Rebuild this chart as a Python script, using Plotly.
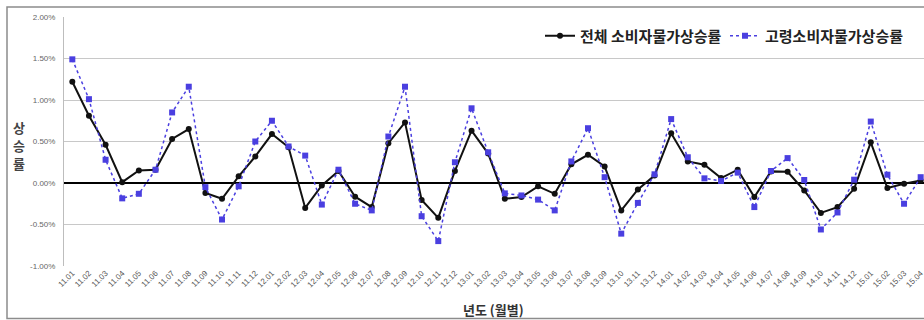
import plotly.graph_objects as go

months = ["11.01","11.02","11.03","11.04","11.05","11.06","11.07","11.08","11.09","11.10","11.11","11.12",
          "12.01","12.02","12.03","12.04","12.05","12.06","12.07","12.08","12.09","12.10","12.11","12.12",
          "13.01","13.02","13.03","13.04","13.05","13.06","13.07","13.08","13.09","13.10","13.11","13.12",
          "14.01","14.02","14.03","14.04","14.05","14.06","14.07","14.08","14.09","14.10","14.11","14.12",
          "15.01","15.02","15.03","15.04"]

total_cpi = [1.22, 0.81, 0.46, 0.01, 0.15, 0.16, 0.53, 0.65, -0.12, -0.19, 0.08, 0.32,
             0.59, 0.43, -0.30, -0.03, 0.145, -0.165, -0.29, 0.48, 0.73, -0.205, -0.42, 0.145,
             0.63, 0.355, -0.19, -0.17, -0.04, -0.13, 0.225, 0.34, 0.20, -0.33, -0.077, 0.09,
             0.60, 0.26, 0.22, 0.06, 0.16, -0.17, 0.14, 0.135, -0.09, -0.36, -0.29, -0.07,
             0.49, -0.06, -0.01, 0.03]

elderly_cpi = [1.49, 1.01, 0.28, -0.185, -0.13, 0.16, 0.85, 1.16, -0.05, -0.44, -0.04, 0.50,
               0.75, 0.44, 0.33, -0.26, 0.16, -0.25, -0.33, 0.56, 1.16, -0.40, -0.70, 0.25,
               0.90, 0.37, -0.125, -0.15, -0.20, -0.33, 0.26, 0.66, 0.07, -0.61, -0.24, 0.105,
               0.77, 0.31, 0.056, 0.025, 0.125, -0.29, 0.145, 0.30, 0.036, -0.56, -0.355, 0.04,
               0.74, 0.10, -0.25, 0.07]

series_names = ["전체 소비자물가상승률", "고령소비자물가상승률"]
ytick_vals = [-1.0, -0.5, 0.0, 0.5, 1.0, 1.5, 2.0]
ytick_text = ["-1.00%", "-0.50%", "0.00%", "0.50%", "1.00%", "1.50%", "2.00%"]
x_title = "년도 (월별)"
y_title_chars = ["상", "승", "률"]

W, H = 924, 320
L, R, T, B = 64, 0, 17, 54
pw, ph = W - L - R, H - T - B

def px_x(p):
    return (p - L) / pw

def px_y(p):
    return (H - B - p) / ph

fig = go.Figure()
fig.add_trace(go.Scatter(
    x=months, y=total_cpi, name=series_names[0], mode="lines+markers",
    line=dict(color="#111111", width=2),
    marker=dict(symbol="circle", size=6, color="#111111"),
    cliponaxis=False,
))
fig.add_trace(go.Scatter(
    x=months, y=elderly_cpi, name=series_names[1], mode="lines+markers",
    line=dict(color="#4a3fe0", width=1.5, dash="dot"),
    marker=dict(symbol="square", size=6, color="#4a3fe0"),
    cliponaxis=False,
))

fig.update_layout(
    width=W, height=H,
    margin=dict(l=L, r=R, t=T, b=B, pad=0, autoexpand=False),
    paper_bgcolor="white", plot_bgcolor="white",
    font=dict(family="Noto Sans CJK KR, Liberation Sans, sans-serif", color="#333"),
    showlegend=True,
    legend=dict(orientation="h", x=px_x(540), xanchor="left", y=px_y(36), yanchor="middle",
                font=dict(size=15, color="#222", family="Noto Sans CJK KR", weight="bold"),
                bgcolor="rgba(0,0,0,0)", itemwidth=30, tracegroupgap=0,
                entrywidth=140, entrywidthmode="pixels"),
    xaxis=dict(type="category", range=[-0.5, 51.2], showgrid=False, zeroline=False,
               automargin=False,
               tickangle=-45, tickfont=dict(size=8, color="#555", family="Liberation Sans"),
               ticks="", showline=False),
    yaxis=dict(range=[-1.0, 2.0], tickvals=ytick_vals, ticktext=ytick_text, automargin=False,
               tickfont=dict(size=8, color="#666", family="Liberation Sans"),
               ticklabelstandoff=6,
               showgrid=True, gridcolor="#c8c8c8", gridwidth=1,
               zeroline=True, zerolinecolor="#000", zerolinewidth=1.6,
               showline=True, linecolor="#bdbdbd", linewidth=1, ticks="", ticklen=0),
)

fig.add_annotation(text=x_title, xref="paper", yref="paper", x=px_x(493), y=px_y(309),
                   showarrow=False, xanchor="center", yanchor="middle",
                   font=dict(size=13, color="#333", family="Noto Sans CJK KR", weight="bold"))
for ch, py in zip(y_title_chars, [127, 145, 163]):
    fig.add_annotation(text=ch, xref="paper", yref="paper", x=px_x(19), y=px_y(py),
                       showarrow=False, xanchor="center", yanchor="middle",
                       font=dict(size=13, color="#444", family="Noto Sans CJK KR", weight="bold"))

fig.add_shape(type="rect", xref="paper", yref="paper",
              x0=px_x(7), x1=px_x(935), y0=px_y(318.5), y1=px_y(7),
              line=dict(color="#8c8c8c", width=1.5), fillcolor="rgba(0,0,0,0)", layer="below")

fig.write_html("out.html", config={"displayModeBar": False},
               post_script="document.body.style.margin='0';document.body.style.overflow='hidden';")
